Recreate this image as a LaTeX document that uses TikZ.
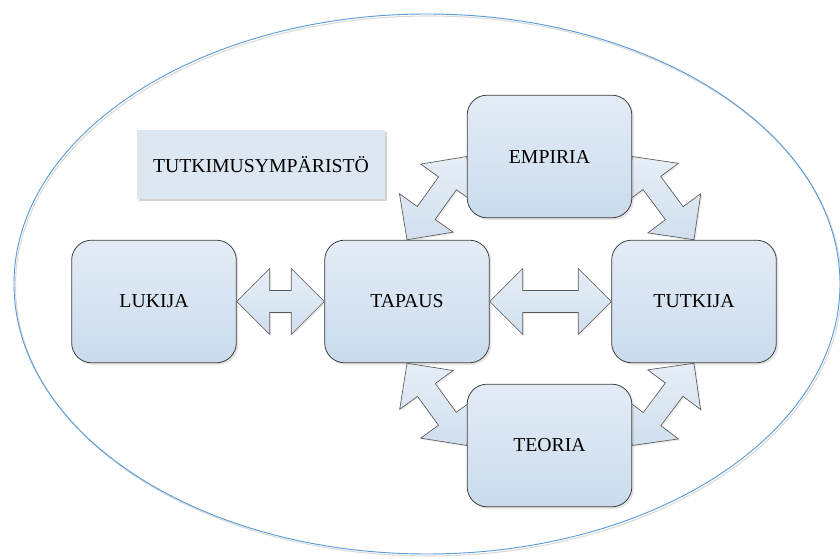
\documentclass[tikz,border=0pt]{standalone}
\usepackage{fontspec}
\setmainfont{Liberation Serif}
\usepackage{tikz}
\usetikzlibrary{calc,shadows,backgrounds}
\definecolor{boxtop}{HTML}{E3ECF6}
\definecolor{boxbottom}{HTML}{CADBEC}
\definecolor{boxline}{HTML}{404040}
\definecolor{arrowline}{HTML}{5A5A5A}
\definecolor{arrowtop}{HTML}{E6EEF7}
\definecolor{arrowbottom}{HTML}{D0DFEE}
\definecolor{labelfill}{HTML}{DDE7F2}
\definecolor{envline}{HTML}{5B9BD5}
\definecolor{envshadow}{HTML}{DADADA}
\tikzset{
  stage/.style={draw=boxline, line width=0.6pt, rounded corners=15pt,
    top color=boxtop, bottom color=boxbottom, inner sep=0pt,
    minimum width=123.5pt, minimum height=92pt,
    drop shadow={shadow xshift=1.5pt, shadow yshift=-1.5pt, opacity=0.22}},
  envlabel/.style={fill=labelfill, inner sep=0pt,
    minimum width=186pt, minimum height=52pt,
    drop shadow={shadow xshift=1.5pt, shadow yshift=-1.5pt, opacity=0.35}},
  blockarrow/.style={draw=arrowline, line width=0.5pt, line join=miter,
    top color=arrowtop, bottom color=arrowbottom,
    drop shadow={shadow xshift=1.2pt, shadow yshift=-1.2pt, opacity=0.15}}
}
\newcommand{\dblarrow}[2]{%
  \path[blockarrow] let \p1=($(#2)-(#1)$), \n1={atan2(\y1,\x1)},
      \n2={veclen(\x1,\y1)-24.75}, \n3={veclen(\x1,\y1)} in
    {[shift={(#1)}, rotate=\n1]
      (0pt,0pt) -- (24.75pt,24.75pt) -- (24.75pt,8.25pt) -- ({\n2*1pt},8.25pt)
      -- ({\n2*1pt},24.75pt) -- ({\n3*1pt},0pt) -- ({\n2*1pt},-24.75pt)
      -- ({\n2*1pt},-8.25pt) -- (24.75pt,-8.25pt) -- (24.75pt,-24.75pt) -- cycle};
}

\begin{document}
\begin{tikzpicture}[x=0.75pt, y=-0.75pt, font=\fontsize{14.8}{17}\selectfont]
  \useasboundingbox (0,0) rectangle (840,559);
  \node[stage] (lukija) at (154,301.5) {LUKIJA};
  \node[stage] (tapaus) at (407,301.5) {TAPAUS};
  \node[stage] (tutkija) at (694,301.5) {TUTKIJA};
  \node[stage] (empiria) at (549.5,156.5) {EMPIRIA};
  \node[stage] (teoria) at (549.5,445.5) {TEORIA};
  \node[envlabel] (ymparisto) at (261,164.5) {TUTKIMUSYMPÄRISTÖ};
  \begin{pgfonlayer}{background}
    \draw[envshadow, line width=0.8pt] (428.5,286) ellipse [x radius=413, y radius=270];
    \draw[envline, line width=0.7pt] (427,284) ellipse [x radius=413, y radius=270];
    \foreach \a/\b in {lukija.east/tapaus.west, tapaus.east/tutkija.west,
        tapaus.north/empiria.west, empiria.east/tutkija.north,
        tapaus.south/teoria.west, teoria.east/tutkija.south}
      {\dblarrow{\a}{\b}}
  \end{pgfonlayer}
\end{tikzpicture}
\end{document}
